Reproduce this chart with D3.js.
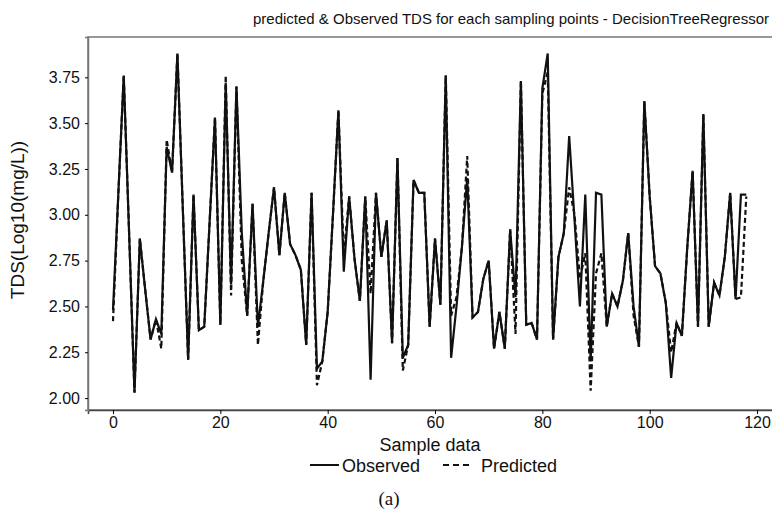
<!DOCTYPE html>
<html><head><meta charset="utf-8">
<script src="https://cdn.jsdelivr.net/npm/d3@7"></script>
<style>body{margin:0;background:#fff}svg{display:block}text{font-family:"Liberation Sans",Arial,sans-serif;fill:#111}</style>
</head><body><svg id="c" width="772" height="512"></svg>
<script>
const title = "predicted & Observed TDS for each sampling points - DecisionTreeRegressor";
const xLabel = "Sample data";
const yLabel = "TDS(Log10(mg/L))";
const xTicks = [0, 20, 40, 60, 80, 100, 120];
const yTicks = [2.00, 2.25, 2.50, 2.75, 3.00, 3.25, 3.50, 3.75];
const observed = [2.48,3.12,3.76,2.90,2.03,2.87,2.59,2.32,2.43,2.35,
3.37,3.23,3.88,3.04,2.21,3.11,2.37,2.39,2.96,3.53,
2.40,3.72,2.62,3.70,2.90,2.45,3.06,2.39,2.64,2.90,
3.15,2.78,3.12,2.84,2.78,2.70,2.29,3.12,2.16,2.20,
2.47,3.01,3.57,2.69,3.10,2.76,2.53,3.10,2.10,3.12,
2.77,2.97,2.30,3.31,2.22,2.29,3.19,3.12,3.12,2.39,
2.87,2.51,3.76,2.22,2.50,2.82,3.20,2.44,2.47,2.65,
2.75,2.27,2.47,2.27,2.92,2.55,3.73,2.40,2.41,2.32,
3.69,3.88,2.32,2.77,2.90,3.43,2.97,2.50,3.11,2.20,
3.12,3.11,2.39,2.57,2.50,2.64,2.90,2.50,2.28,3.62,
3.10,2.72,2.68,2.52,2.11,2.41,2.34,2.82,3.24,2.39,
3.55,2.39,2.63,2.56,2.77,3.12,2.54,3.11,3.11];
const predicted = [2.42,3.12,3.76,2.90,2.03,2.87,2.59,2.32,2.43,2.27,
3.41,3.23,3.88,3.04,2.21,3.11,2.37,2.39,2.96,3.53,
2.40,3.76,2.56,3.70,2.75,2.45,3.06,2.29,2.64,2.90,
3.15,2.78,3.12,2.84,2.78,2.70,2.29,3.12,2.07,2.20,
2.47,3.01,3.57,2.78,3.10,2.76,2.53,3.10,2.57,3.12,
2.77,2.97,2.30,3.31,2.15,2.29,3.19,3.12,3.12,2.39,
2.87,2.51,3.76,2.45,2.55,2.82,3.32,2.44,2.47,2.65,
2.75,2.27,2.47,2.27,2.92,2.35,3.73,2.40,2.41,2.32,
3.66,3.78,2.32,2.77,2.90,3.15,3.00,2.65,2.79,2.04,
2.68,2.79,2.39,2.57,2.50,2.64,2.90,2.45,2.28,3.62,
3.10,2.72,2.68,2.52,2.25,2.41,2.34,2.82,3.24,2.39,
3.55,2.39,2.63,2.56,2.77,3.12,2.54,2.55,3.10];
const seriesNames = ["Observed", "Predicted"];

const svg = d3.select("#c");
const L = 88, R = 775, T = 37, B = 410;
const x = d3.scaleLinear().domain([-4.66, 123.35]).range([L, R]);
const y = d3.scaleLinear().domain([1.935, 3.97]).range([B, T]);

// panel border
svg.append("rect").attr("x", L).attr("y", T).attr("width", R - L).attr("height", B - T)
  .attr("fill", "none").attr("stroke", "#777").attr("stroke-width", 1.5);

// axes
const xAxis = svg.append("g").attr("transform", `translate(0,${B})`)
  .call(d3.axisBottom(x).tickValues(xTicks).tickSize(4).tickPadding(3).tickFormat(d3.format("d")));
xAxis.select(".domain").attr("stroke", "#444").attr("stroke-width", 1.6);
xAxis.selectAll("text").style("font-size", "16px").attr("fill", "#111");
const yAxis = svg.append("g").attr("transform", `translate(${L},0)`)
  .call(d3.axisLeft(y).tickValues(yTicks).tickSize(3).tickPadding(5).tickFormat(d3.format(".2f")));
yAxis.select(".domain").attr("stroke", "#777").attr("stroke-width", 1.5);
yAxis.selectAll("text").style("font-size", "16px").attr("fill", "#111");

const line = d3.line().x((d, i) => x(i)).y(d => y(d));
svg.append("path").datum(observed).attr("d", line).attr("fill", "none")
  .attr("stroke", "#111").attr("stroke-width", 2.2).attr("stroke-linejoin", "miter");
svg.append("path").datum(predicted).attr("d", line).attr("fill", "none")
  .attr("stroke", "#111").attr("stroke-width", 2.2).attr("stroke-dasharray", "5,3");

// title
svg.append("text").attr("x", 511).attr("y", 24).attr("text-anchor", "middle")
  .style("font-size", "15px").text(title);
// axis titles
svg.append("text").attr("x", 430).attr("y", 451).attr("text-anchor", "middle")
  .style("font-size", "18px").text(xLabel);
svg.append("text").attr("transform", "translate(24,220) rotate(-90)").attr("text-anchor", "middle")
  .style("font-size", "19px").text(yLabel);

// legend
const lg = svg.append("g");
lg.append("line").attr("x1", 310).attr("x2", 339).attr("y1", 465).attr("y2", 465)
  .attr("stroke", "#111").attr("stroke-width", 2);
lg.append("text").attr("x", 342).attr("y", 471.5).style("font-size", "18px").text(seriesNames[0]);
lg.append("line").attr("x1", 443).attr("x2", 471).attr("y1", 465).attr("y2", 465)
  .attr("stroke", "#111").attr("stroke-width", 2).attr("stroke-dasharray", "6,4");
lg.append("text").attr("x", 481).attr("y", 471.5).style("font-size", "18px").text(seriesNames[1]);

svg.append("text").attr("x", 389).attr("y", 505).attr("text-anchor", "middle")
  .style("font-family", "'Liberation Serif',serif").style("font-size", "19px").text("(a)");
</script></body></html>
